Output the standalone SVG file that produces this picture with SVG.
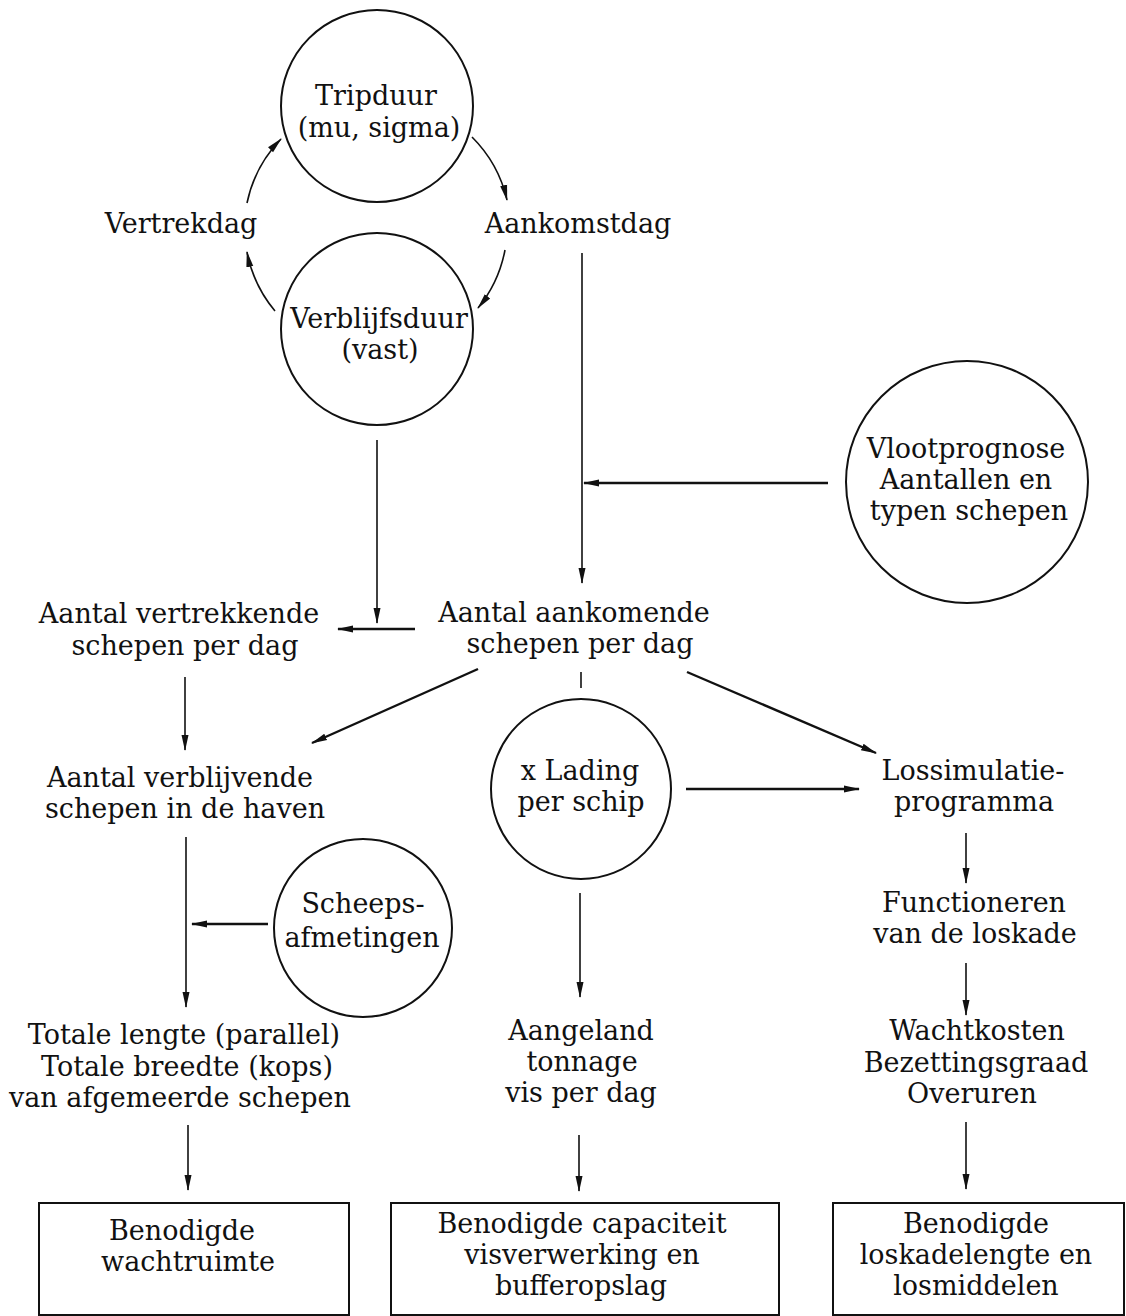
<svg xmlns="http://www.w3.org/2000/svg" width="1126" height="1316" viewBox="0 0 1126 1316">
<defs>
<style>
text{font-family:"DejaVu Serif","Liberation Serif",serif;font-size:27px;fill:#111;text-anchor:middle}
.node{fill:none;stroke:#111;stroke-width:2}
.c{fill:none;stroke:#111;stroke-width:1.6}
.c2{fill:none;stroke:#111;stroke-width:2.4}
</style>
<marker id="ah" markerUnits="userSpaceOnUse" markerWidth="16" markerHeight="10" viewBox="0 0 16 10" refX="15" refY="5" orient="auto">
<path d="M0,1.5 L16,5 L0,8.5 z" fill="#111"/>
</marker>
</defs>
<rect width="1126" height="1316" fill="#fff"/>

<g id="connectors">
<path class="c" d="M247,203 A130,130 0 0 1 281,139" marker-end="url(#ah)"/>
<path class="c" d="M472,137 A130,130 0 0 1 507,200" marker-end="url(#ah)"/>
<path class="c" d="M505,250 A130,130 0 0 1 478,308" marker-end="url(#ah)"/>
<path class="c" d="M275,311 A130,130 0 0 1 247,252" marker-end="url(#ah)"/>
<line class="c" x1="582" y1="253" x2="582" y2="583" marker-end="url(#ah)"/>
<line class="c2" x1="828" y1="483" x2="584" y2="483" marker-end="url(#ah)"/>
<line class="c" x1="377" y1="440" x2="377" y2="623" marker-end="url(#ah)"/>
<line class="c2" x1="415" y1="629" x2="338" y2="629" marker-end="url(#ah)"/>
<line class="c" x1="185" y1="677" x2="185" y2="750" marker-end="url(#ah)"/>
<line class="c2" x1="478" y1="669" x2="312" y2="743" marker-end="url(#ah)"/>
<line class="c" x1="581" y1="672" x2="581" y2="688"/>
<line class="c2" x1="687" y1="672" x2="876" y2="753" marker-end="url(#ah)"/>
<line class="c2" x1="686" y1="789" x2="859" y2="789" marker-end="url(#ah)"/>
<line class="c" x1="186" y1="837" x2="186" y2="1007" marker-end="url(#ah)"/>
<line class="c2" x1="268" y1="924" x2="192" y2="924" marker-end="url(#ah)"/>
<line class="c" x1="580" y1="893" x2="580" y2="997" marker-end="url(#ah)"/>
<line class="c" x1="966" y1="833" x2="966" y2="883" marker-end="url(#ah)"/>
<line class="c" x1="966" y1="963" x2="966" y2="1015" marker-end="url(#ah)"/>
<line class="c" x1="188" y1="1125" x2="188" y2="1190" marker-end="url(#ah)"/>
<line class="c" x1="579" y1="1135" x2="579" y2="1191" marker-end="url(#ah)"/>
<line class="c" x1="966" y1="1122" x2="966" y2="1189" marker-end="url(#ah)"/>
</g>

<g id="tripduur">
<circle class="node" cx="377" cy="106" r="96"/>
<text x="376" y="105">Tripduur</text>
<text x="379" y="137">(mu, sigma)</text>
</g>
<g id="vertrekdag"><text x="181" y="233">Vertrekdag</text></g>
<g id="aankomstdag"><text x="578" y="233">Aankomstdag</text></g>
<g id="verblijfsduur">
<circle class="node" cx="377" cy="329" r="96"/>
<text x="379" y="328">Verblijfsduur</text>
<text x="380" y="359">(vast)</text>
</g>
<g id="vlootprognose">
<circle class="node" cx="967" cy="482" r="121"/>
<text x="966" y="458">Vlootprognose</text>
<text x="966" y="489">Aantallen en</text>
<text x="969" y="520">typen schepen</text>
</g>
<g id="vertrekkende">
<text x="179" y="623">Aantal vertrekkende</text>
<text x="185" y="655">schepen per dag</text>
</g>
<g id="aankomende">
<text x="574" y="622">Aantal aankomende</text>
<text x="580" y="653">schepen per dag</text>
</g>
<g id="verblijvende">
<text x="180" y="787">Aantal verblijvende</text>
<text x="185" y="818">schepen in de haven</text>
</g>
<g id="lading">
<circle class="node" cx="581" cy="789" r="90"/>
<text x="580" y="780">x Lading</text>
<text x="581" y="811">per schip</text>
</g>
<g id="lossimulatie">
<text x="973" y="780">Lossimulatie-</text>
<text x="974" y="811">programma</text>
</g>
<g id="scheepsafmetingen">
<circle class="node" cx="363" cy="928" r="89"/>
<text x="363" y="913">Scheeps-</text>
<text x="362" y="947">afmetingen</text>
</g>
<g id="functioneren">
<text x="974" y="912">Functioneren</text>
<text x="975" y="943">van de loskade</text>
</g>
<g id="totale">
<text x="184" y="1044">Totale lengte (parallel)</text>
<text x="187" y="1076">Totale breedte (kops)</text>
<text x="180" y="1107">van afgemeerde schepen</text>
</g>
<g id="aangeland">
<text x="581" y="1040">Aangeland</text>
<text x="582" y="1071">tonnage</text>
<text x="581" y="1102">vis per dag</text>
</g>
<g id="wachtkosten">
<text x="977" y="1040">Wachtkosten</text>
<text x="976" y="1072">Bezettingsgraad</text>
<text x="972" y="1103">Overuren</text>
</g>
<g id="box-wachtruimte">
<rect class="node" x="39" y="1203" width="310" height="112"/>
<text x="182" y="1240">Benodigde</text>
<text x="188" y="1271">wachtruimte</text>
</g>
<g id="box-capaciteit">
<rect class="node" x="391" y="1203" width="388" height="112"/>
<text x="582" y="1233">Benodigde capaciteit</text>
<text x="582" y="1264">visverwerking en</text>
<text x="581" y="1295">bufferopslag</text>
</g>
<g id="box-loskade">
<rect class="node" x="833" y="1203" width="291" height="112"/>
<text x="976" y="1233">Benodigde</text>
<text x="976" y="1264">loskadelengte en</text>
<text x="976" y="1295">losmiddelen</text>
</g>
</svg>
